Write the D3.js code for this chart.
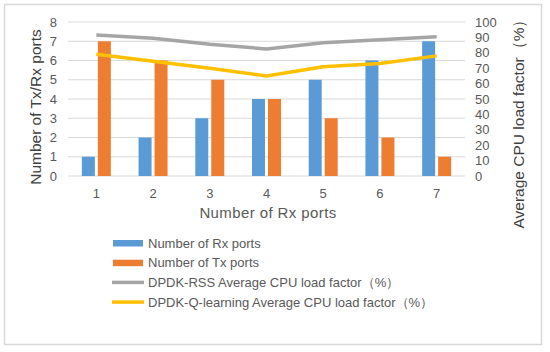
<!DOCTYPE html>
<html><head><meta charset="utf-8">
<script src="https://cdn.jsdelivr.net/npm/d3@7"></script>
<style>body{margin:0;background:#fff}svg{display:block}text{font-family:"Liberation Sans",Arial,sans-serif}</style>
</head><body><svg id="c" width="550" height="352"></svg>
<script>
const categories = ["1","2","3","4","5","6","7"];
const rxPorts = [1,2,3,4,5,6,7];
const txPorts = [7,6,5,4,3,2,1];
const rssLoad = [91.5,89.5,85.5,82.5,86.5,88.5,90.5];
const qLoad = [79,74.5,70,65,71,73,78];
const leftTicks = [0,1,2,3,4,5,6,7,8];
const rightTicks = [0,10,20,30,40,50,60,70,80,90,100];
const seriesNames = ["Number of Rx ports","Number of Tx ports","DPDK-RSS Average CPU load factor（%）","DPDK-Q-learning Average CPU load factor（%）"];
const colors = ["#5B9BD5","#ED7D31","#A5A5A5","#FFC000"];

const svg = d3.select("#c");
svg.append("rect").attr("x",4.5).attr("y",4.5).attr("width",537).attr("height",340)
  .attr("fill","#fff").attr("stroke","#D9D9D9").attr("stroke-width",1.5);

const L=68, R=465, T=22, B=176;
const x = d3.scaleBand().domain(categories).range([L,R]);
const yL = d3.scaleLinear().domain([0,8]).range([B,T]);
const yR = d3.scaleLinear().domain([0,100]).range([B,T]);

svg.append("g").selectAll("line").data(leftTicks).join("line")
  .attr("x1",L).attr("x2",R).attr("y1",d=>yL(d)).attr("y2",d=>yL(d))
  .attr("stroke","#D9D9D9").attr("stroke-width",1);

const tc="#595959";
svg.append("g").selectAll("text").data(leftTicks).join("text")
  .attr("x",57).attr("y",d=>yL(d)).attr("dy","0.35em").attr("text-anchor","end")
  .attr("fill",tc).attr("font-size",13).text(d=>d);
svg.append("g").selectAll("text").data(rightTicks).join("text")
  .attr("x",475).attr("y",d=>yR(d)).attr("dy","0.35em").attr("text-anchor","start")
  .attr("fill",tc).attr("font-size",13).text(d=>d);
svg.append("g").selectAll("text").data(categories).join("text")
  .attr("x",d=>x(d)+x.bandwidth()/2).attr("y",193).attr("dy","0.35em").attr("text-anchor","middle")
  .attr("fill",tc).attr("font-size",13).text(d=>d);

const bw=13, gap=3;
const cx = d=>x(d)+x.bandwidth()/2;
svg.append("g").selectAll("rect").data(categories).join("rect")
  .attr("x",(d)=>cx(d)-gap/2-bw).attr("width",bw)
  .attr("y",(d,i)=>yL(rxPorts[i])).attr("height",(d,i)=>B-yL(rxPorts[i])).attr("fill",colors[0]);
svg.append("g").selectAll("rect").data(categories).join("rect")
  .attr("x",(d)=>cx(d)+gap/2).attr("width",bw)
  .attr("y",(d,i)=>yL(txPorts[i])).attr("height",(d,i)=>B-yL(txPorts[i])).attr("fill",colors[1]);

const line = vals => d3.line().x((d,i)=>cx(categories[i])).y(d=>yR(d))(vals);
svg.append("path").attr("d",line(rssLoad)).attr("fill","none").attr("stroke",colors[2]).attr("stroke-width",3.5).attr("stroke-linejoin","round");
svg.append("path").attr("d",line(qLoad)).attr("fill","none").attr("stroke",colors[3]).attr("stroke-width",3.5).attr("stroke-linejoin","round");

svg.append("text").attr("transform","translate(36,107) rotate(-90)").attr("text-anchor","middle")
  .attr("dy","0.35em").attr("fill","#404040").attr("font-size",15.5).text("Number of Tx/Rx ports");
svg.append("text").attr("transform","translate(519,120) rotate(-90)").attr("text-anchor","middle")
  .attr("dy","0.35em").attr("fill","#404040").attr("font-size",15.5).text("Average CPU load factor（%）");
svg.append("text").attr("x",268).attr("y",213).attr("dy","0.35em").attr("text-anchor","middle")
  .attr("fill",tc).attr("font-size",15).attr("letter-spacing",0.4).text("Number of Rx ports");

const lg = svg.append("g");
seriesNames.forEach((n,i)=>{
  const yy = 243 + i*19.7;
  if(i<2) lg.append("rect").attr("x",113).attr("y",yy-3).attr("width",30).attr("height",6.5).attr("fill",colors[i]);
  else lg.append("line").attr("x1",112).attr("x2",144).attr("y1",yy).attr("y2",yy).attr("stroke",colors[i]).attr("stroke-width",3.5);
  lg.append("text").attr("x",148).attr("y",yy).attr("dy","0.35em").attr("fill",tc).attr("font-size",13).text(n);
});
</script></body></html>
